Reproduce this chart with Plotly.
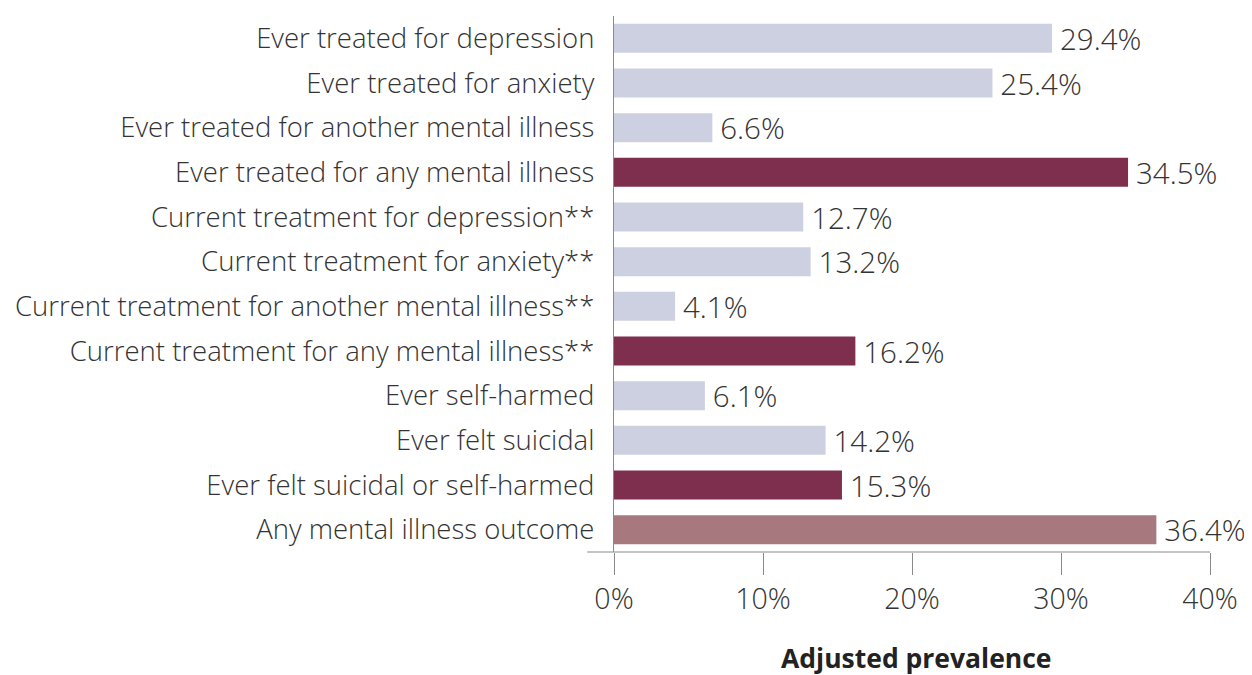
import plotly.graph_objects as go

categories = [
    "Ever treated for depression",
    "Ever treated for anxiety",
    "Ever treated for another mental illness",
    "Ever treated for any mental illness",
    "Current treatment for depression**",
    "Current treatment for anxiety**",
    "Current treatment for another mental illness**",
    "Current treatment for any mental illness**",
    "Ever self-harmed",
    "Ever felt suicidal",
    "Ever felt suicidal or self-harmed",
    "Any mental illness outcome",
]
values = [29.4, 25.4, 6.6, 34.5, 12.7, 13.2, 4.1, 16.2, 6.1, 14.2, 15.3, 36.4]
groups = ["light", "light", "light", "dark", "light", "light", "light", "dark",
          "light", "light", "dark", "total"]
tick_vals = [0, 10, 20, 30, 40]
tick_text = ["0%", "10%", "20%", "30%", "40%"]

color_map = {"light": "#CDD0E0", "dark": "#7F2F4E", "total": "#A8787F"}
colors = [color_map[g] for g in groups]

FONT = "Open Sans"
TXT = "#333333"

fig = go.Figure(go.Bar(
    x=values, y=categories, orientation="h",
    marker=dict(color=colors, line=dict(width=0)),
    text=[f"\u2009{v:.1f}%" for v in values], textposition="outside",
    constraintext="none",
    textfont=dict(family=FONT, size=29.5, color=TXT, weight=300),
    cliponaxis=False,
))

fig.update_layout(
    width=1244, height=667,
    margin=dict(l=606, r=42, t=8, b=123),
    plot_bgcolor="white", paper_bgcolor="white",
    bargap=0.35, showlegend=False,
    font=dict(family=FONT, size=27, color=TXT, weight=300),
)
fig.update_xaxes(
    range=[0, 40], tickvals=tick_vals, ticktext=tick_text,
    showgrid=False, zeroline=False, showline=False,
    ticks="outside", ticklen=22, tickcolor="#8a8a8a", tickwidth=1.2,
    tickfont=dict(family=FONT, size=28.5, color=TXT, weight=300),
)
fig.update_yaxes(
    autorange="reversed", showgrid=False, zeroline=False,
    showline=True, linecolor="#8a8a8a", linewidth=1.2,
    ticks="", ticklabelstandoff=13,
    tickfont=dict(family=FONT, size=27.5, color=TXT, weight=300),
)
# horizontal axis baseline extending slightly left of the y axis
fig.add_shape(type="line", xref="paper", yref="paper",
              x0=-0.045, x1=1, y0=0, y1=0,
              line=dict(color="#8a8a8a", width=1.2))
fig.add_annotation(text="<b>Adjusted prevalence</b>", xref="paper", yref="paper",
                   x=0.507, y=0, yanchor="middle", yshift=-106, showarrow=False,
                   font=dict(family=FONT, size=26.5, color="#222222"))

fig.write_html("out.html")
